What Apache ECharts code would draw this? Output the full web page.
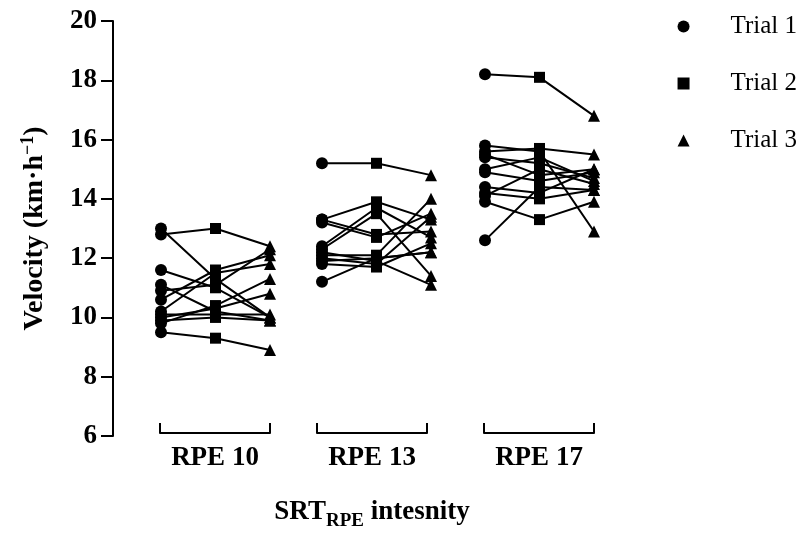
<!DOCTYPE html>
<html>
<head>
<meta charset="utf-8">
<script src="https://cdn.jsdelivr.net/npm/echarts@6/dist/echarts.min.js"></script>
<style>
  html, body { margin: 0; padding: 0; background: #fff; }
  #main { width: 806px; height: 535px; }
</style>
</head>
<body>
<div id="main"></div>
<script>
  // categories
  var trials = ['Trial 1', 'Trial 2', 'Trial 3'];
  var groups = ['RPE 10', 'RPE 13', 'RPE 17'];
  var yTicks = [6, 8, 10, 12, 14, 16, 18, 20];

  // velocity (km/h), one value per subject, same order in each trial
  var rpe10T1 = [12.8, 13.0, 11.6, 11.1, 10.6, 10.2, 10.9, 10.0, 10.1, 9.9, 9.8, 9.5];
  var rpe10T2 = [13.0, 11.3, 11.0, 10.2, 11.6, 11.5, 11.1, 10.3, 10.1, 10.0, 10.4, 9.3];
  var rpe10T3 = [12.4, 10.0, 10.0, 9.9, 12.1, 11.8, 12.3, 10.8, 10.1, 9.9, 11.3, 8.9];

  var rpe13T1 = [15.2, 13.3, 13.3, 13.2, 12.4, 12.3, 12.1, 12.0, 11.9, 11.8, 12.2, 11.2];
  var rpe13T2 = [15.2, 13.9, 12.8, 12.7, 13.7, 13.5, 12.1, 11.8, 12.0, 11.7, 11.9, 12.0];
  var rpe13T3 = [14.8, 13.3, 12.9, 13.5, 12.7, 11.4, 14.0, 13.4, 12.2, 12.5, 11.1, 12.2];

  var rpe17T1 = [18.2, 15.8, 15.6, 15.4, 15.5, 15.0, 14.9, 14.4, 14.2, 14.1, 13.9, 12.6];
  var rpe17T2 = [18.1, 15.6, 15.7, 15.2, 14.8, 15.4, 14.6, 14.2, 14.0, 15.0, 13.3, 14.4];
  var rpe17T3 = [16.8, 12.9, 15.5, 14.7, 15.0, 14.6, 14.9, 15.0, 14.3, 14.5, 13.9, 14.3];

  var groupData = [
    [rpe10T1, rpe10T2, rpe10T3],
    [rpe13T1, rpe13T2, rpe13T3],
    [rpe17T1, rpe17T2, rpe17T3]
  ];

  var serif = 'Liberation Serif';
  var symbols = ['circle', 'rect', 'triangle'];
  var symbolSizes = [12, 11, 12];

  var pointLeft = [161, 322, 485];
  var bracketLeft = [160, 317, 484];
  var gridTop = 21, gridHeight = 415;

  var grids = [], xAxes = [], yAxes = [], series = [];

  // point grids (0..2)
  for (var g = 0; g < 3; g++) {
    grids.push({ left: pointLeft[g], top: gridTop, width: 109, height: gridHeight });
    xAxes.push({
      type: 'category', gridIndex: g, data: trials, boundaryGap: false, show: false
    });
    yAxes.push({
      type: 'value', gridIndex: g, min: 6, max: 20, interval: 2, show: g === 0,
      offset: g === 0 ? pointLeft[0] - 113 : 0,
      axisLine: { show: true, lineStyle: { color: '#000', width: 2 } },
      axisTick: { show: true, inside: false, length: 12, lineStyle: { color: '#000', width: 2 } },
      splitLine: { show: false },
      axisLabel: {
        color: '#000', fontFamily: serif, fontWeight: 'bold', fontSize: 27, margin: 16,
        formatter: function (v) { return yTicks.indexOf(v) >= 0 ? String(v) : ''; }
      },
      name: g === 0 ? '{a|Velocity (km·h}{b|−1}{a|)}' : '',
      nameLocation: 'middle',
      nameGap: 62,
      nameTextStyle: {
        rich: {
          a: { fontFamily: serif, fontWeight: 'bold', fontSize: 28, color: '#000' },
          b: { fontFamily: serif, fontWeight: 'bold', fontSize: 18, color: '#000', padding: [0, 0, 14, 0] }
        }
      }
    });
  }

  // bracket grids (3..5)
  for (var b = 0; b < 3; b++) {
    grids.push({ left: bracketLeft[b], top: gridTop, width: 110, height: gridHeight });
    xAxes.push({
      type: 'category', gridIndex: 3 + b, data: trials, boundaryGap: false,
      offset: -3,
      axisLine: { show: true, lineStyle: { color: '#000', width: 2 } },
      axisTick: {
        show: true, inside: true, length: 10,
        interval: function (i) { return i !== 1; },
        lineStyle: { color: '#000', width: 2 }
      },
      axisLabel: { show: false },
      name: groups[b],
      nameLocation: 'middle',
      nameGap: 12,
      nameTextStyle: { fontFamily: serif, fontWeight: 'bold', fontSize: 27, color: '#000' }
    });
    yAxes.push({ type: 'value', gridIndex: 3 + b, min: 6, max: 20, show: false, splitLine: { show: false } });
  }

  for (var k = 0; k < 3; k++) {
    var d = groupData[k];
    // subject lines
    for (var s = 0; s < d[0].length; s++) {
      series.push({
        type: 'line', name: 'subj' + k + '_' + s, xAxisIndex: k, yAxisIndex: k,
        data: [d[0][s], d[1][s], d[2][s]],
        symbol: 'none', silent: true, z: 2,
        lineStyle: { color: '#000', width: 2 }
      });
    }
    // trial markers
    for (var t = 0; t < 3; t++) {
      series.push({
        type: 'scatter', name: trials[t], xAxisIndex: k, yAxisIndex: k,
        data: d[t].map(function (v) { return [t, v]; }),
        symbol: symbols[t], symbolSize: symbolSizes[t], z: 3,
        itemStyle: { color: '#000', opacity: 1 }
      });
    }
  }

  var chart = echarts.init(document.getElementById('main'));
  chart.setOption({
    backgroundColor: '#fff',
    animation: false,
    grid: grids,
    xAxis: xAxes,
    yAxis: yAxes,
    legend: {
      orient: 'vertical',
      right: 4,
      top: 9,
      itemWidth: 84,
      itemHeight: 12,
      itemGap: 32,
      symbolKeepAspect: true,
      data: [
        { name: 'Trial 1', icon: 'circle' },
        { name: 'Trial 2', icon: 'path://M0,0L10,0L10,10L0,10Z' },
        { name: 'Trial 3', icon: 'path://M5,0L10,10L0,10Z' }
      ],
      textStyle: { fontFamily: serif, fontSize: 25, color: '#000' },
      itemStyle: { color: '#000' }
    },
    graphic: [{
      type: 'text',
      x: 372, y: 512,
      style: {
        text: '{a|SRT}{b|RPE}{a| intesnity}',
        align: 'center', verticalAlign: 'middle',
        rich: {
          a: { fontFamily: serif, fontWeight: 'bold', fontSize: 27, fill: '#000' },
          b: { fontFamily: serif, fontWeight: 'bold', fontSize: 19, fill: '#000', padding: [18, 0, 0, 0] }
        }
      }
    }],
    series: series
  });
</script>
</body>
</html>
